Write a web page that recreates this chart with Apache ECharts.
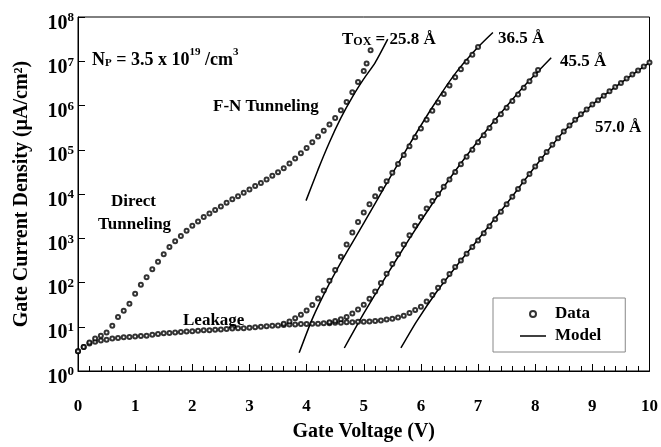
<!DOCTYPE html>
<html>
<head>
<meta charset="utf-8">
<script src="https://cdn.jsdelivr.net/npm/echarts@6/dist/echarts.min.js"></script>
<style>
  html, body { margin: 0; padding: 0; background: #fff; }
  #chart { width: 661px; height: 447px; }
</style>
</head>
<body>
<div id="chart"></div>
<script>
// gate voltage (V) / current density (uA/cm2)
const vLeak = [0, 0.1, 0.2, 0.3, 0.4, 0.5, 0.6, 0.7, 0.8, 0.9, 1, 1.1, 1.2, 1.3, 1.4, 1.5, 1.6, 1.7, 1.8, 1.9,
  2, 2.1, 2.2, 2.3, 2.4, 2.5, 2.6, 2.7, 2.8, 2.9, 3, 3.1, 3.2, 3.3, 3.4, 3.5, 3.6, 3.7, 3.8, 3.9,
  4, 4.1, 4.2, 4.3, 4.4, 4.5, 4.6, 4.7, 4.8, 4.9, 5, 5.1, 5.2, 5.3, 5.4, 5.5]
const jLeak = [2.8, 3.5, 4.2, 4.6, 4.9, 5.1, 5.4, 5.6, 5.8, 5.9, 6.0, 6.2, 6.3, 6.6, 6.9, 7.1, 7.2, 7.4, 7.6, 7.8,
  7.9, 8.1, 8.3, 8.3, 8.5, 8.7, 8.9, 9.1, 9.3, 9.3, 9.5, 9.8, 10.0, 10.2, 10.5, 10.7, 11.0, 11.2, 11.2, 11.5,
  11.5, 11.7, 11.7, 12.0, 12.0, 12.3, 12.3, 12.6, 12.6, 12.9, 12.9, 13.2, 13.5, 13.8, 14.5, 15.1]

const v258 = [0, 0.1, 0.2, 0.3, 0.4, 0.5, 0.6, 0.7, 0.8, 0.9, 1, 1.1, 1.2, 1.3, 1.4, 1.5, 1.6, 1.7, 1.8, 1.9,
  2, 2.1, 2.2, 2.3, 2.4, 2.5, 2.6, 2.7, 2.8, 2.9, 3, 3.1, 3.2, 3.3, 3.4, 3.5, 3.6, 3.7, 3.8, 3.9,
  4, 4.1, 4.2, 4.3, 4.4, 4.5, 4.6, 4.7, 4.8, 4.9, 5, 5.05, 5.12]
const j258 = [2.8, 3.5, 4.4, 5.4, 6.3, 7.4, 10.5, 16.6, 23, 33, 56, 89, 132, 200, 295, 437, 631, 851, 1120, 1480,
  1910, 2400, 3020, 3630, 4370, 5250, 6310, 7590, 8910, 1.07e4, 1.26e4, 1.51e4, 1.78e4, 2.14e4, 2.57e4, 3.09e4, 3.8e4, 4.9e4, 6.31e4, 8.32e4,
  1.1e5, 1.48e5, 2.0e5, 2.69e5, 3.72e5, 5.25e5, 7.76e5, 1.2e6, 2.0e6, 3.39e6, 6.03e6, 8.9e6, 1.78e7]

const v365 = [3.6, 3.7, 3.8, 3.9, 4, 4.1, 4.2, 4.3, 4.4, 4.5, 4.6, 4.7, 4.8, 4.9, 5, 5.1, 5.2, 5.3, 5.4, 5.5,
  5.6, 5.7, 5.8, 5.9, 6, 6.1, 6.2, 6.3, 6.4, 6.5, 6.6, 6.7, 6.8, 6.9, 7]
const j365 = [11.7, 13.2, 15.5, 18.6, 23.4, 30.9, 43.7, 66, 110, 191, 380, 724, 1350, 2340, 3800, 5890, 8910, 1.29e4, 1.95e4, 3.02e4,
  4.79e4, 7.59e4, 1.2e5, 1.91e5, 3.02e5, 4.79e5, 7.59e5, 1.17e6, 1.82e6, 2.82e6, 4.37e6, 6.61e6, 9.77e6, 1.41e7, 2.09e7]

const v455 = [4.4, 4.5, 4.6, 4.7, 4.8, 4.9, 5, 5.1, 5.2, 5.3, 5.4, 5.5, 5.6, 5.7, 5.8, 5.9, 6, 6.1, 6.2, 6.3,
  6.4, 6.5, 6.6, 6.7, 6.8, 6.9, 7, 7.1, 7.2, 7.3, 7.4, 7.5, 7.6, 7.7, 7.8, 7.9, 8, 8.05]
const j455 = [12.6, 13.5, 14.8, 16.6, 20, 24.5, 31.6, 42.7, 63, 98, 158, 263, 437, 724, 1175, 1905, 3020, 4680, 6920, 1.0e4,
  1.45e4, 2.14e4, 3.16e4, 4.68e4, 6.92e4, 1.0e5, 1.48e5, 2.14e5, 3.09e5, 4.47e5, 6.31e5, 8.91e5, 1.26e6, 1.78e6, 2.51e6, 3.55e6, 5.01e6, 6.31e6]

const v570 = [5.6, 5.7, 5.8, 5.9, 6, 6.1, 6.2, 6.3, 6.4, 6.5, 6.6, 6.7, 6.8, 6.9, 7, 7.1, 7.2, 7.3, 7.4, 7.5,
  7.6, 7.7, 7.8, 7.9, 8, 8.1, 8.2, 8.3, 8.4, 8.5, 8.6, 8.7, 8.8, 8.9, 9, 9.1, 9.2, 9.3, 9.4, 9.5,
  9.6, 9.7, 9.8, 9.9, 10]
const j570 = [16.2, 17.8, 20.4, 24, 28.2, 37.2, 52.5, 75.9, 107, 155, 224, 316, 447, 631, 891, 1290, 1860, 2690, 3980, 5890,
  8710, 1.29e4, 1.91e4, 2.82e4, 4.17e4, 6.17e4, 8.91e4, 1.29e5, 1.82e5, 2.57e5, 3.55e5, 4.79e5, 6.31e5, 8.13e5, 1.05e6, 1.32e6, 1.66e6, 2.09e6, 2.63e6, 3.24e6,
  4.07e6, 5.01e6, 6.17e6, 7.59e6, 9.33e6]

// model curves
const mv258 = [3.99, 4.2, 4.4, 4.6, 4.8, 5.0, 5.2, 5.42]
const mj258 = [7080, 3.55e4, 1.48e5, 5.25e5, 1.55e6, 3.98e6, 9.33e6, 3.16e7]
const mv365 = [3.87, 4.1, 4.4, 4.7, 5.0, 5.4, 5.8, 6.2, 6.6, 7.0, 7.26]
const mj365 = [2.57, 15.1, 95.5, 479, 2190, 1.74e4, 1.32e5, 9.12e5, 5.25e6, 2.09e7, 4.47e7]
const mv455 = [4.66, 5.0, 5.4, 5.8, 6.2, 6.6, 7.0, 7.4, 7.8, 8.28]
const mj455 = [3.31, 20, 145, 977, 6030, 3.31e4, 1.58e5, 6.76e5, 2.69e6, 1.2e7]
const mv570 = [5.65, 5.92, 6.27, 6.62, 7.0, 7.5, 8.0, 8.5, 9.0, 9.5, 10.0]
const mj570 = [3.31, 12.9, 60.3, 234, 933, 6030, 4.17e4, 2.57e5, 1.05e6, 3.24e6, 9.33e6]

const FONT = "'Liberation Serif', 'Times New Roman', serif"

const pairs = (xs, ys) => xs.map((x, i) => [x, ys[i]])

function dataSeries(xs, ys){
  return {
    name: 'Data',
    type: 'scatter',
    symbol: 'emptyCircle',
    symbolSize: 4,
    itemStyle: { color: '#000', borderWidth: 1 },
    z: 3,
    data: pairs(xs, ys)
  }
}

function modelSeries(xs, ys){
  return {
    name: 'Model',
    type: 'line',
    symbol: 'none',
    smooth: 0.2,
    lineStyle: { color: '#000', width: 1.5 },
    itemStyle: { color: '#000' },
    z: 2,
    data: pairs(xs, ys)
  }
}

function label(x, y, text, rich){
  return {
    type: 'text',
    left: x,
    top: y,
    style: {
      text: text,
      fontFamily: FONT,
      fontWeight: 'bold',
      fontSize: 17,
      fill: '#000',
      verticalAlign: 'middle',
      rich: rich || {}
    }
  }
}

const richNp = {
  b: { fontFamily: FONT, fontWeight: 'bold', fontSize: 18, lineHeight: 22, verticalAlign: 'bottom' },
  sub: { fontFamily: FONT, fontWeight: 'bold', fontSize: 11, lineHeight: 12, verticalAlign: 'bottom' },
  sup: { fontFamily: FONT, fontWeight: 'bold', fontSize: 11, lineHeight: 12, verticalAlign: 'top' }
}
const richTox = {
  b: { fontFamily: FONT, fontWeight: 'bold', fontSize: 17, lineHeight: 22, verticalAlign: 'bottom' },
  sub: { fontFamily: FONT, fontWeight: 'bold', fontSize: 12, lineHeight: 14, verticalAlign: 'bottom' }
}

const chart = echarts.init(document.getElementById('chart'))
chart.setOption({
  animation: false,
  backgroundColor: '#fff',
  textStyle: { fontFamily: FONT },
  grid: { left: 78, right: 11, top: 17, bottom: 70, show: true, borderColor: '#000', borderWidth: 1 },
  legend: {
    left: 493,
    top: 298,
    orient: 'vertical',
    padding: [6, 24, 6, 27],
    itemGap: 2,
    itemWidth: 26,
    itemHeight: 6,
    borderColor: '#888',
    borderWidth: 1,
    textStyle: { fontFamily: FONT, fontWeight: 'bold', fontSize: 17, color: '#000', lineHeight: 20, padding: [0, 0, 0, 4] },
    data: [
      { name: 'Data', icon: 'emptyCircle', itemStyle: { borderWidth: 1 } },
      { name: 'Model', icon: 'path://M0,0 L26,0 L26,1.5 L0,1.5 Z' }
    ]
  },
  xAxis: {
    type: 'value',
    min: 0,
    max: 10,
    interval: 1,
    name: 'Gate Voltage (V)',
    nameLocation: 'middle',
    nameGap: 51,
    nameTextStyle: { fontFamily: FONT, fontWeight: 'bold', fontSize: 20, color: '#000' },
    axisLine: { lineStyle: { color: '#000', width: 1 } },
    axisTick: { inside: true, length: 7, lineStyle: { color: '#000' } },
    minorTick: { show: true, splitNumber: 5, length: 5, lineStyle: { color: '#000' } },
    splitLine: { show: false },
    axisLabel: { margin: 27, color: '#000', fontFamily: FONT, fontWeight: 'bold', fontSize: 17 }
  },
  yAxis: {
    type: 'log',
    logBase: 10,
    min: 1,
    max: 1e8,
    name: 'Gate Current Density (µA/cm²)',
    nameLocation: 'middle',
    nameGap: 46,
    nameTextStyle: { fontFamily: FONT, fontWeight: 'bold', fontSize: 20, color: '#000' },
    axisLine: { show: true, lineStyle: { color: '#000', width: 1 } },
    axisTick: { inside: true, length: 7, lineStyle: { color: '#000' } },
    splitLine: { show: false },
    axisLabel: {
      margin: 4,
      color: '#000',
      padding: [11, 0, 0, 0],
      formatter: v => '{b|10}{s|' + Math.round(Math.log10(v)) + '}',
      rich: {
        b: { fontFamily: FONT, fontWeight: 'bold', fontSize: 20, lineHeight: 22, verticalAlign: 'bottom', color: '#000' },
        s: { fontFamily: FONT, fontWeight: 'bold', fontSize: 13, lineHeight: 14, verticalAlign: 'top', color: '#000' }
      }
    }
  },
  graphic: [
    label(92, 47, '{b|N}{sub|P}{b| = 3.5 x 10}{sup|19}{b| /cm}{sup|3}', richNp),
    label(342, 31, '{b|T}{sub|OX}{b| = 25.8 Å}', richTox),
    label(498, 30, '36.5 Å'),
    label(560, 53, '45.5 Å'),
    label(595, 119, '57.0 Å'),
    label(213, 98, 'F-N Tunneling'),
    label(111, 193, 'Direct'),
    label(98, 216, 'Tunneling'),
    label(183, 312, 'Leakage')
  ],
  series: [
    dataSeries(vLeak, jLeak),
    dataSeries(v258, j258),
    dataSeries(v365, j365),
    dataSeries(v455, j455),
    dataSeries(v570, j570),
    modelSeries(mv258, mj258),
    modelSeries(mv365, mj365),
    modelSeries(mv455, mj455),
    modelSeries(mv570, mj570)
  ]
})
</script>
</body>
</html>
